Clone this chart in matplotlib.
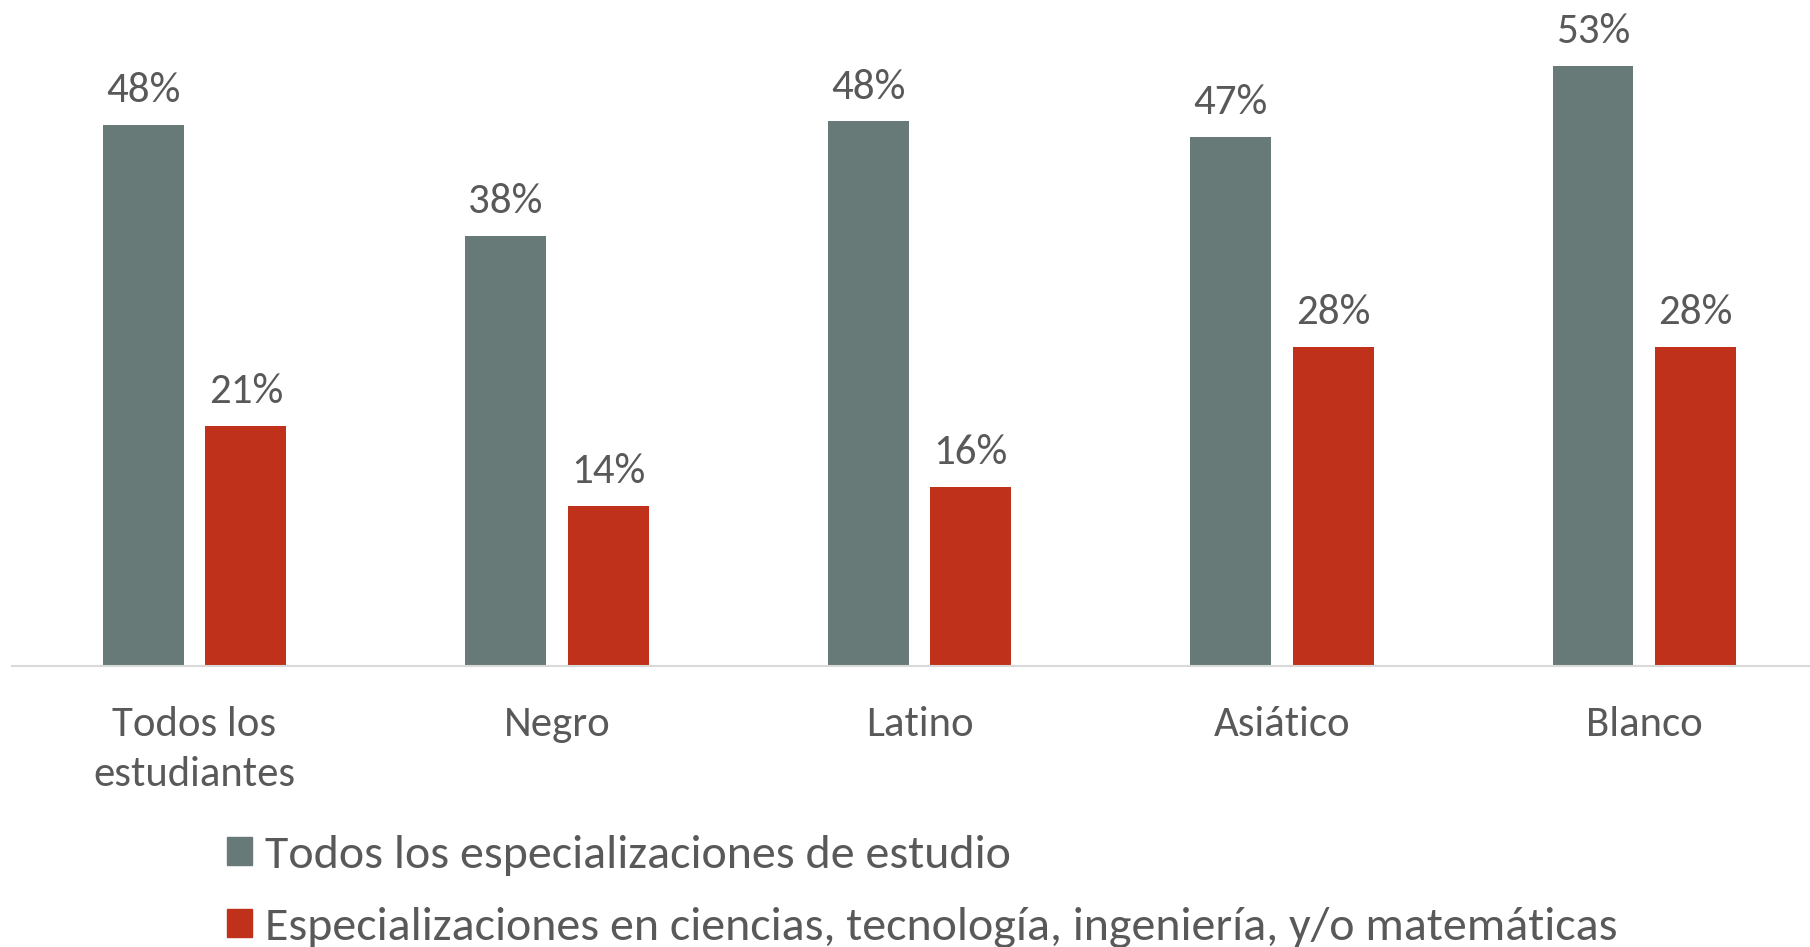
import matplotlib
matplotlib.use("Agg")
import matplotlib.pyplot as plt
from matplotlib import font_manager as fm
from matplotlib.patches import Patch

# ---- data ----
categories = ["Todos los\nestudiantes", "Negro", "Latino", "Asiático", "Blanco"]
todos_vals = [47.7, 37.9, 48.0, 46.6, 52.9]
stem_vals = [21.2, 14.1, 15.8, 28.1, 28.1]
series_names = ["Todos los especializaciones de estudio",
                "Especializaciones en ciencias, tecnología, ingeniería, y/o matemáticas"]

# ---- font choice ----
avail = {f.name for f in fm.fontManager.ttflist}
family = "Lato"
for cand in ["Carlito", "Lato"]:
    if cand in avail:
        family = cand
        break
plt.rcParams["font.family"] = [family, "DejaVu Sans"]

GREEN = "#677A78"
RED = "#BF311A"
TEXT = "#595959"
AXIS = "#D9D9D9"

fig = plt.figure(figsize=(18.10, 9.47), dpi=100)
ax = fig.add_axes([0.0064, 0.2963, 0.9936, 0.7037])

x = list(range(len(categories)))
w = 0.223
off = 0.1417
b1 = ax.bar([i - off for i in x], todos_vals, width=w, color=GREEN, label=series_names[0])
b2 = ax.bar([i + off for i in x], stem_vals, width=w, color=RED, label=series_names[1])

for bars, vals in ((b1, todos_vals), (b2, stem_vals)):
    for r, v in zip(bars, vals):
        ax.annotate(f"{round(v):d}%", (r.get_x() + r.get_width() / 2, r.get_height()),
                    xytext=(0, 16.5), textcoords="offset points",
                    ha="center", va="baseline", fontsize=31, color=TEXT)

ax.set_xlim(-0.5048, 4.457)
ax.set_ylim(0, 58.7)
ax.set_yticks([])
ax.set_xticks(x)
ax.set_xticklabels(categories, fontsize=30.8, color=TEXT, linespacing=1.45)
ax.tick_params(axis="x", length=0, pad=28.5)
for s in ["top", "right", "left"]:
    ax.spines[s].set_visible(False)
ax.spines["bottom"].set_color(AXIS)
ax.spines["bottom"].set_linewidth(1.5)

handles = [Patch(color=GREEN), Patch(color=RED)]
fig.legend(handles, series_names, loc="center left", bbox_to_anchor=(0.1254, 0.0586),
           frameon=False, fontsize=34.6, labelcolor=TEXT, handlelength=0.53, handleheight=0.53,
           handletextpad=0.27, labelspacing=0.64, borderpad=0, borderaxespad=0)

fig.savefig("out.png", dpi=100)
